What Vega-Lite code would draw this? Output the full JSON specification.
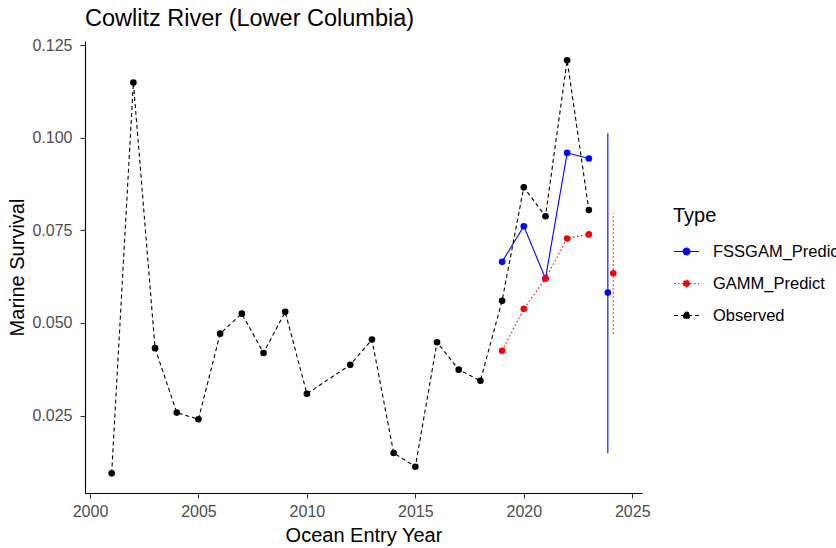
{
  "$schema": "https://vega.github.io/schema/vega-lite/v6.json",
  "width": 557,
  "height": 452,
  "autosize": {"type": "none"},
  "padding": {"left": 85, "top": 41, "right": 194, "bottom": 55},
  "background": "white",
  "title": {
    "text": "Cowlitz River (Lower Columbia)",
    "anchor": "start",
    "frame": "group",
    "fontSize": 23.5,
    "font": "Liberation Sans",
    "fontWeight": "normal",
    "color": "black",
    "baseline": "alphabetic",
    "offset": -12
  },
  "config": {
    "view": {"stroke": null},
    "font": "Liberation Sans",
    "axis": {
      "grid": false,
      "domainColor": "black",
      "domainWidth": 1.1,
      "tickColor": "#333333",
      "tickSize": 5,
      "tickWidth": 1.1,
      "labelColor": "#4D4D4D",
      "labelFontSize": 16,
      "labelFont": "Liberation Sans",
      "titleFont": "Liberation Sans",
      "titleFontSize": 20,
      "titleFontWeight": "normal",
      "titleColor": "black"
    }
  },
  "data": {
    "values": [
      {"Year": 2001, "Type": "Observed", "Period": "fit", "Survival": 0.0094},
      {"Year": 2002, "Type": "Observed", "Period": "fit", "Survival": 0.1149},
      {"Year": 2003, "Type": "Observed", "Period": "fit", "Survival": 0.0432},
      {"Year": 2004, "Type": "Observed", "Period": "fit", "Survival": 0.0258},
      {"Year": 2005, "Type": "Observed", "Period": "fit", "Survival": 0.0240},
      {"Year": 2006, "Type": "Observed", "Period": "fit", "Survival": 0.0471},
      {"Year": 2007, "Type": "Observed", "Period": "fit", "Survival": 0.0525},
      {"Year": 2008, "Type": "Observed", "Period": "fit", "Survival": 0.0419},
      {"Year": 2009, "Type": "Observed", "Period": "fit", "Survival": 0.0530},
      {"Year": 2010, "Type": "Observed", "Period": "fit", "Survival": 0.0309},
      {"Year": 2012, "Type": "Observed", "Period": "fit", "Survival": 0.0387},
      {"Year": 2013, "Type": "Observed", "Period": "fit", "Survival": 0.0455},
      {"Year": 2014, "Type": "Observed", "Period": "fit", "Survival": 0.0149},
      {"Year": 2015, "Type": "Observed", "Period": "fit", "Survival": 0.0112},
      {"Year": 2016, "Type": "Observed", "Period": "fit", "Survival": 0.0448},
      {"Year": 2017, "Type": "Observed", "Period": "fit", "Survival": 0.0374},
      {"Year": 2018, "Type": "Observed", "Period": "fit", "Survival": 0.0344},
      {"Year": 2019, "Type": "Observed", "Period": "fit", "Survival": 0.0560},
      {"Year": 2020, "Type": "Observed", "Period": "fit", "Survival": 0.0866},
      {"Year": 2021, "Type": "Observed", "Period": "fit", "Survival": 0.0788},
      {"Year": 2022, "Type": "Observed", "Period": "fit", "Survival": 0.1209},
      {"Year": 2023, "Type": "Observed", "Period": "fit", "Survival": 0.0805},
      {"Year": 2019, "Type": "FSSGAM_Predict", "Period": "fit", "Survival": 0.0665},
      {"Year": 2020, "Type": "FSSGAM_Predict", "Period": "fit", "Survival": 0.0761},
      {"Year": 2021, "Type": "FSSGAM_Predict", "Period": "fit", "Survival": 0.0620},
      {"Year": 2022, "Type": "FSSGAM_Predict", "Period": "fit", "Survival": 0.0959},
      {"Year": 2023, "Type": "FSSGAM_Predict", "Period": "fit", "Survival": 0.0944},
      {"Year": 2024, "Type": "FSSGAM_Predict", "Period": "forecast", "Survival": 0.0582, "Lower": 0.0148, "Upper": 0.1012},
      {"Year": 2019, "Type": "GAMM_Predict", "Period": "fit", "Survival": 0.0425},
      {"Year": 2020, "Type": "GAMM_Predict", "Period": "fit", "Survival": 0.0538},
      {"Year": 2021, "Type": "GAMM_Predict", "Period": "fit", "Survival": 0.0620},
      {"Year": 2022, "Type": "GAMM_Predict", "Period": "fit", "Survival": 0.0728},
      {"Year": 2023, "Type": "GAMM_Predict", "Period": "fit", "Survival": 0.0739},
      {"Year": 2024, "Type": "GAMM_Predict", "Period": "forecast", "Survival": 0.0634, "Lower": 0.0471, "Upper": 0.0797}
    ]
  },
  "transform": [
    {"calculate": "datum.Period == 'forecast' ? datum.Year + (datum.Type == 'FSSGAM_Predict' ? -0.125 : 0.125) : datum.Year", "as": "YearDodged"}
  ],
  "encoding": {
    "x": {
      "field": "YearDodged",
      "type": "quantitative",
      "title": "Ocean Entry Year",
      "scale": {"domain": [1999.77, 2025.45], "nice": false, "zero": false},
      "axis": {"values": [2000, 2005, 2010, 2015, 2020, 2025], "format": "d", "labelPadding": 5, "titlePadding": 6}
    },
    "y": {
      "field": "Survival",
      "type": "quantitative",
      "title": "Marine Survival",
      "scale": {"domain": [0.0041, 0.1261], "nice": false, "zero": false},
      "axis": {"values": [0.025, 0.05, 0.075, 0.1, 0.125], "format": ".3f", "labelPadding": 8, "titlePadding": 4}
    }
  },
  "layer": [
    {
      "transform": [{"filter": "datum.Period == 'fit'"}],
      "mark": {"type": "line", "strokeWidth": 1.1},
      "encoding": {
        "color": {
          "field": "Type",
          "type": "nominal",
          "scale": {"domain": ["FSSGAM_Predict", "GAMM_Predict", "Observed"], "range": ["#0000FF", "#FF0000", "#000000"]},
          "legend": {
            "title": "Type",
            "orient": "none",
            "legendX": 588,
            "legendY": 165,
            "padding": 0,
            "titleFontSize": 20,
            "titleFontWeight": "normal",
            "titleColor": "black",
            "titleFont": "Liberation Sans",
            "titlePadding": 12,
            "labelFontSize": 16.5,
            "labelColor": "black",
            "labelFont": "Liberation Sans",
            "labelOffset": 13,
            "symbolType": "M-1,0H1M0.27,0A0.27,0.27,0,1,1,-0.27,0A0.27,0.27,0,1,1,0.27,0Z",
            "symbolSize": 625,
            "symbolStrokeWidth": 1.1,
            "rowPadding": 10,
            "encode": {"symbols": {"update": {"fill": {"scale": "color", "field": "value"}, "fillOpacity": {"value": 1}}}}
          }
        },
        "strokeDash": {
          "field": "Type",
          "type": "nominal",
          "scale": {"domain": ["FSSGAM_Predict", "GAMM_Predict", "Observed"], "range": [[1, 0], [1.5, 2.5], [4, 3]]},
          "legend": {
            "title": "Type",
            "orient": "none",
            "legendX": 588,
            "legendY": 165,
            "padding": 0,
            "titleFontSize": 20,
            "titleFontWeight": "normal",
            "titleColor": "black",
            "titleFont": "Liberation Sans",
            "titlePadding": 12,
            "labelFontSize": 16.5,
            "labelColor": "black",
            "labelFont": "Liberation Sans",
            "labelOffset": 13,
            "symbolType": "M-1,0H1M0.27,0A0.27,0.27,0,1,1,-0.27,0A0.27,0.27,0,1,1,0.27,0Z",
            "symbolSize": 625,
            "symbolStrokeWidth": 1.1,
            "rowPadding": 10,
            "encode": {"symbols": {"update": {"fill": {"scale": "color", "field": "value"}, "fillOpacity": {"value": 1}}}}
          }
        }
      }
    },
    {
      "transform": [{"filter": "datum.Period == 'forecast'"}],
      "mark": {"type": "rule", "strokeWidth": 1.1},
      "encoding": {
        "y": {"field": "Lower", "type": "quantitative"},
        "y2": {"field": "Upper"},
        "color": {"field": "Type", "type": "nominal", "legend": null},
        "strokeDash": {"field": "Type", "type": "nominal", "legend": null}
      }
    },
    {
      "mark": {"type": "circle", "size": 44, "opacity": 1},
      "encoding": {
        "color": {"field": "Type", "type": "nominal", "legend": null}
      }
    }
  ]
}
